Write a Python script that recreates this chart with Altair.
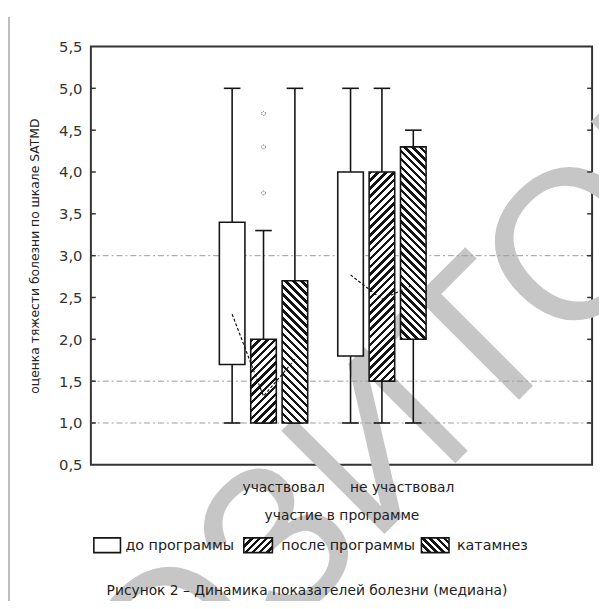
import altair as alt
import pandas as pd

# ---------------- data ----------------
groups = ["участвовал", "не участвовал"]
series = ["до программы", "после программы", "катамнез"]
whisker_low = [[1.0, 1.0, 1.0], [1.0, 1.0, 1.0]]
box_low = [[1.7, 1.0, 1.0], [1.8, 1.5, 2.0]]
medians = [[2.3, 1.32, 1.76], [2.77, 2.48, 2.65]]
box_high = [[3.4, 2.0, 2.7], [4.0, 4.0, 4.3]]
whisker_high = [[5.0, 3.3, 5.0], [5.0, 5.0, 4.5]]
outlier_values = [3.75, 4.3, 4.7]
outlier_group = 0
outlier_series = 1
y_ticks = [0.5, 1.0, 1.5, 2.0, 2.5, 3.0, 3.5, 4.0, 4.5, 5.0, 5.5]
grid_values = [1.0, 1.5, 3.0]
y_title = "оценка тяжести болезни по шкале SATMD"
x_title = "участие в программе"
caption = "Рисунок 2 – Динамика показателей болезни (медиана)"
watermark = "РЕПОЗИТОРИЙ"

# ---------------- layout ----------------
W, H = 508, 424
X_DOMAIN = [-0.458, 3.775]
Y_DOMAIN = [0.5, 5.5]
STEP = 0.265
HALF = 0.108
CAP = 0.07
px_x = W / (X_DOMAIN[1] - X_DOMAIN[0])
px_y = H / (Y_DOMAIN[1] - Y_DOMAIN[0])
FONT = "DejaVu Sans"
INK = "#151515"
hatch_dir = {1: "/", 2: "\\"}


def hatch(w, h, direction, period=8.0, ink=0.45):
    r = w / h
    m = (1 + r) / (1 + r * r)
    x2 = r * m
    n = max(1, round((w + h) / period))
    stops = []
    for i in range(n):
        a, b, c = i / n, (i + ink) / n, (i + 1) / n
        stops += [
            {"offset": a, "color": INK},
            {"offset": b, "color": INK},
            {"offset": b, "color": "#ffffff"},
            {"offset": c, "color": "#ffffff"},
        ]
    if direction == "/":
        return {"gradient": "linear", "x1": 0, "y1": 0, "x2": x2, "y2": m, "stops": stops}
    return {"gradient": "linear", "x1": 0, "y1": 1, "x2": x2, "y2": 1 - m, "stops": stops}


rows = []
for gi, g in enumerate(groups):
    for si, s in enumerate(series):
        rows.append(dict(group=g, series=s, gi=gi + 1, si=si,
                         lo=whisker_low[gi][si], q1=box_low[gi][si], med=medians[gi][si],
                         q3=box_high[gi][si], hi=whisker_high[gi][si]))
boxes = pd.DataFrame(rows)
outl = pd.DataFrame({"gi": outlier_group + 1, "si": outlier_series, "v": outlier_values})

xscale = alt.Scale(domain=X_DOMAIN, nice=False, zero=False)
yscale = alt.Scale(domain=Y_DOMAIN, nice=False, zero=False)

label_expr = "datum.value == 1 ? '%s' : (datum.value == 2 ? '%s' : '')" % (groups[0], groups[1])
xax = alt.Axis(values=[1, 2], labelExpr=label_expr, labelOffset=20, labelPadding=16,
               labelFont=FONT, labelFontSize=14, labelColor="#222", labelFlush=False,
               ticks=False, domain=False, grid=False, titleFont=FONT, titleFontSize=14,
               titleFontWeight="normal", titleColor="#222", titlePadding=14, zindex=2)
yax = alt.Axis(values=y_ticks, labelExpr="replace(format(datum.value, '.1f'), '.', ',')",
               labelFont=FONT, labelFontSize=15, labelColor="#333", labelPadding=9,
               ticks=False, domain=False, grid=False, titleFont=FONT, titleFontSize=12.5,
               titleFontWeight="normal", titleColor="#222", titlePadding=17, zindex=2)


def X(f):
    return alt.X(f, type="quantitative", scale=xscale, axis=xax, title=x_title)


def Y(f):
    return alt.Y(f, type="quantitative", scale=yscale, axis=yax, title=y_title)


calc = dict(xc="datum.gi + (datum.si - 1) * %f" % STEP)
base = alt.Chart(boxes).transform_calculate(**calc).transform_calculate(
    xl="datum.xc - %f" % HALF, xr="datum.xc + %f" % HALF,
    cl="datum.xc - %f" % CAP, cr="datum.xc + %f" % CAP)

one = alt.Data(values=[{"k": 1}])

layers = []

# watermark
layers.append(alt.Chart(one).mark_text(
    font="Liberation Sans", fontSize=215, color="#c6c6c6", angle=315,
    align="center", baseline="middle").encode(
    x=alt.value(295), y=alt.value(405), text=alt.value(watermark)))

# page left border
layers.append(alt.Chart(one).mark_rule(color="#bdbdbd", strokeWidth=2).encode(
    x=alt.value(-83), y=alt.value(-30), y2=alt.value(570)))

# grid lines
layers.append(alt.Chart(pd.DataFrame({"v": grid_values})).mark_rule(
    color="#9a9a9a", strokeWidth=1, strokeDash=[6, 3, 2, 3]).encode(y=Y("v")))

# inward ticks left and right
tick_df = pd.DataFrame({"v": y_ticks[1:-1]})
layers.append(alt.Chart(tick_df).mark_rule(color="#333", strokeWidth=1.5).encode(
    y=Y("v"), x=alt.value(0), x2=alt.value(5)))
layers.append(alt.Chart(tick_df).mark_rule(color="#333", strokeWidth=1.5).encode(
    y=Y("v"), x=alt.value(W - 5), x2=alt.value(W)))

# whiskers
layers.append(base.mark_rule(color=INK, strokeWidth=1.6).encode(
    x=X("xc"), y=Y("lo"), y2="q1"))
layers.append(base.mark_rule(color=INK, strokeWidth=1.6).encode(
    x=X("xc"), y=Y("q3"), y2="hi"))
layers.append(base.mark_rule(color=INK, strokeWidth=1.6).encode(
    x=X("cl"), x2="cr", y=Y("lo")))
layers.append(base.mark_rule(color=INK, strokeWidth=1.6).encode(
    x=X("cl"), x2="cr", y=Y("hi")))

# boxes
box_w = 2 * HALF * px_x
layers.append(base.transform_filter("datum.si == 0").mark_rect(
    fill="#ffffff", stroke=INK, strokeWidth=1.6).encode(x=X("xl"), x2="xr", y=Y("q1"), y2="q3"))
for r in rows:
    if r["si"] == 0:
        continue
    h = (r["q3"] - r["q1"]) * px_y
    grad = hatch(box_w, h, hatch_dir[r["si"]])
    layers.append(base.transform_filter(
        "datum.gi == %d && datum.si == %d" % (r["gi"], r["si"])).mark_rect(
        fill=grad, stroke=INK, strokeWidth=1.6).encode(x=X("xl"), x2="xr", y=Y("q1"), y2="q3"))

# outliers
layers.append(alt.Chart(outl).transform_calculate(**calc).mark_point(
    shape="circle", size=16, filled=False, color=INK, strokeWidth=1, strokeDash=[1, 1]).encode(
    x=X("xc"), y=Y("v")))

# median connecting lines
layers.append(base.mark_line(color=INK, strokeWidth=1.2, strokeDash=[3, 2]).encode(
    x=X("xc"), y=Y("med"), detail="group:N", order="si:Q"))

# legend (manual, hatched swatches)
sw = [(3, 30), (155, 184), (335, 363)]
lab_x = [35, 193, 371]
for i, s in enumerate(series):
    x0, x1 = sw[i]
    fill = "#ffffff" if i == 0 else hatch(x1 - x0, 15, hatch_dir[i], period=7)
    layers.append(alt.Chart(one).mark_rect(fill=fill, stroke=INK, strokeWidth=1.6).encode(
        x=alt.value(x0), x2=alt.value(x1), y=alt.value(498), y2=alt.value(513)))
    layers.append(alt.Chart(one).mark_text(
        font=FONT, fontSize=14.5, color="#222", align="left", baseline="middle").encode(
        x=alt.value(lab_x[i]), y=alt.value(506), text=alt.value(s)))

# caption
layers.append(alt.Chart(one).mark_text(
    font=FONT, fontSize=14, color="#222", align="center", baseline="middle").encode(
    x=alt.value(219), y=alt.value(552), text=alt.value(caption)))

chart = alt.layer(*layers).properties(
    width=W, height=H,
    autosize=alt.AutoSizeParams(type="none"),
    padding={"left": 84, "top": 35, "right": 7, "bottom": 134},
    background="#ffffff",
).configure_view(stroke="#333", strokeWidth=2)

chart.save("out.html", embed_options={"renderer": "svg", "actions": False})
